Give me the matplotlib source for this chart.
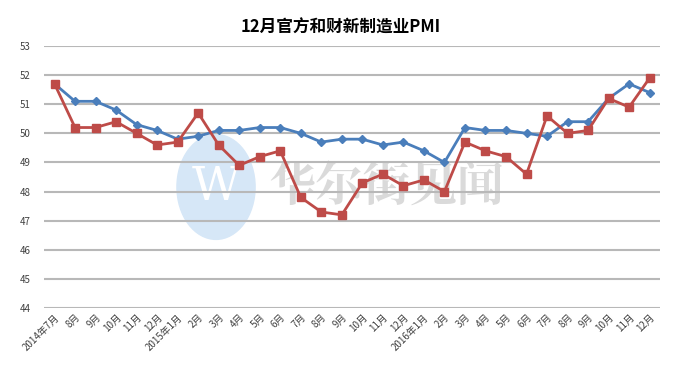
import numpy as np
import matplotlib.pyplot as plt
from matplotlib.patches import Ellipse

plt.rcParams['font.family'] = ['Noto Sans CJK SC', 'DejaVu Sans']

months = ["2014年7月", "8月", "9月", "10月", "11月", "12月",
          "2015年1月", "2月", "3月", "4月", "5月", "6月", "7月", "8月", "9月",
          "10月", "11月", "12月",
          "2016年1月", "2月", "3月", "4月", "5月", "6月", "7月", "8月", "9月",
          "10月", "11月", "12月"]

# official PMI (blue) and Caixin PMI (red)
official = [51.7, 51.1, 51.1, 50.8, 50.3, 50.1, 49.8, 49.9, 50.1, 50.1, 50.2, 50.2,
            50.0, 49.7, 49.8, 49.8, 49.6, 49.7, 49.4, 49.0, 50.2, 50.1, 50.1, 50.0,
            49.9, 50.4, 50.4, 51.2, 51.7, 51.4]
caixin = [51.7, 50.2, 50.2, 50.4, 50.0, 49.6, 49.7, 50.7, 49.6, 48.9, 49.2, 49.4,
          47.8, 47.3, 47.2, 48.3, 48.6, 48.2, 48.4, 48.0, 49.7, 49.4, 49.2, 48.6,
          50.6, 50.0, 50.1, 51.2, 50.9, 51.9]

x = np.arange(len(months))

fig = plt.figure(figsize=(6.81, 3.65), dpi=100)
ax = fig.add_axes([0.065, 0.156, 0.904, 0.718])

# faint watermark
wm = Ellipse((0.279, 0.462), 0.127, 0.40, transform=ax.transAxes,
             color="#d6e7f7", zorder=0)
ax.add_patch(wm)
ax.text(0.279, 0.462, "W", transform=ax.transAxes, ha="center", va="center",
        fontsize=34, color="white", family="DejaVu Serif", zorder=0)
ax.text(0.365, 0.462, "华尔街见闻", transform=ax.transAxes, ha="left", va="center",
        fontsize=34, color="#dadada", fontweight="bold", zorder=0,
        family=["Noto Serif CJK SC", "Noto Sans CJK SC"])

ax.plot(x, official, color="#4a7ebb", lw=2, marker="D", ms=4, zorder=3)
ax.plot(x, caixin, color="#be4b48", lw=2, marker="s", ms=6, zorder=3)

ax.set_ylim(44, 53)
ax.set_yticks(range(44, 54))
ax.set_xlim(-0.5, 29.5)
ax.set_xticks(x)
ax.set_xticklabels(months, rotation=45, ha="right", rotation_mode="anchor",
                   fontsize=7, color="#404040")
ax.tick_params(axis="y", labelsize=7, labelcolor="#404040", length=0, pad=10)
ax.tick_params(axis="x", length=0, pad=3)
ax.yaxis.grid(True, color="#b8b8b8", lw=1.5)
ax.set_axisbelow(True)
for s in ax.spines.values():
    s.set_visible(False)

fig.suptitle("12月官方和财新制造业PMI", y=0.95, fontsize=12, fontweight="bold")

plt.savefig("out.png", dpi=100)
